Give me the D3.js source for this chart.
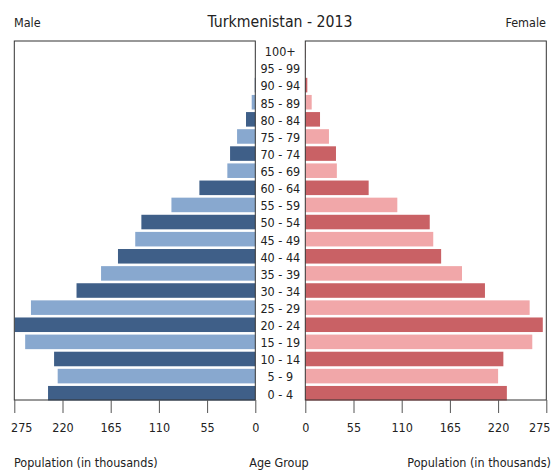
<!DOCTYPE html>
<html><head><meta charset="utf-8">
<script src="https://cdn.jsdelivr.net/npm/d3@7"></script>
<style>body{margin:0;background:#fff}svg{display:block}text{font-family:"DejaVu Sans Condensed","DejaVu Sans",sans-serif;font-stretch:condensed;fill:#222}</style>
</head><body>
<script>
const ageGroups = ["0 - 4","5 - 9","10 - 14","15 - 19","20 - 24","25 - 29","30 - 34","35 - 39","40 - 44","45 - 49","50 - 54","55 - 59","60 - 64","65 - 69","70 - 74","75 - 79","80 - 84","85 - 89","90 - 94","95 - 99","100+"];
const male =   [236.5,225.5,229.6,262.6,274.5,256,204,176,156.7,137,130,95.7,63.8,31.9,28.8,20.8,10.6,4.1,0.6,0.2,0.1];
const female = [230,220,226,259,271,256,205,178.8,155,146,142,105,72.3,36,35,27,16.8,7.3,2.3,0.4,0.3];
const ticks = [0,55,110,165,220,275];

(function(){
const W=553,H=470;
const svg=d3.select("body").append("svg").attr("width",W).attr("height",H);
const pTop=41,pBottom=400;
const lx0=14.3,lx1=255.3,rx0=305.3,rx1=546.3;
const xL=d3.scaleLinear().domain([0,275]).range([lx1,lx0]);
const xR=d3.scaleLinear().domain([0,275]).range([rx0,rx1]);
const y=d3.scaleBand().domain(ageGroups.slice().reverse()).range([43.6,400.5]).paddingInner(0.15).paddingOuter(0);

const maleCols=["#3f5f88","#88a8cf"], femCols=["#c96165","#f1a7a9"];

svg.append("g").selectAll("rect").data(ageGroups).join("rect")
 .attr("x",(d,i)=>xL(male[i])).attr("width",(d,i)=>xL(0)-xL(male[i]))
 .attr("y",d=>y(d)).attr("height",y.bandwidth())
 .attr("fill",(d,i)=>maleCols[i%2]);
svg.append("g").selectAll("rect").data(ageGroups).join("rect")
 .attr("x",xR(0)).attr("width",(d,i)=>xR(female[i])-xR(0))
 .attr("y",d=>y(d)).attr("height",y.bandwidth())
 .attr("fill",(d,i)=>femCols[i%2]);

[[lx0,lx1],[rx0,rx1]].forEach(([a,b])=>{
 svg.append("rect").attr("x",a).attr("y",pTop).attr("width",b-a).attr("height",pBottom-pTop)
  .attr("fill","none").attr("stroke","#333").attr("stroke-width",1);
});

const axL=d3.axisBottom(xL).tickValues(ticks).tickSize(13).tickPadding(10);
const axR=d3.axisBottom(xR).tickValues(ticks).tickSize(13).tickPadding(10);
[[axL,7],[axR,-7]].forEach(([ax,shift])=>{
 const g=svg.append("g").attr("transform",`translate(0,${pBottom})`).call(ax);
 g.select(".domain").remove();
 g.selectAll(".tick line").attr("stroke","#555");
 g.selectAll(".tick text").style("font-family",null).style("font-size","12.5px").attr("fill","#222")
  .attr("dx",d=>d===275?shift:0);
});

svg.append("g").selectAll("text").data(ageGroups).join("text")
 .attr("x",280.3).attr("y",d=>y(d)+y.bandwidth()/2+1).attr("dy","0.35em")
 .attr("text-anchor","middle").style("font-size","12.5px").text(d=>d);

svg.append("text").attr("x",280).attr("y",27).attr("text-anchor","middle").style("font-size","15.7px").text("Turkmenistan - 2013");
svg.append("text").attr("x",14).attr("y",27).style("font-size","12.5px").text("Male");
svg.append("text").attr("x",546).attr("y",27).attr("text-anchor","end").style("font-size","12.5px").text("Female");
svg.append("text").attr("x",14).attr("y",467).style("font-size","12.5px").text("Population (in thousands)");
svg.append("text").attr("x",279).attr("y",467).attr("text-anchor","middle").style("font-size","12.5px").text("Age Group");
svg.append("text").attr("x",551).attr("y",467).attr("text-anchor","end").style("font-size","12.5px").text("Population (in thousands)");
})();
</script>
</body></html>
